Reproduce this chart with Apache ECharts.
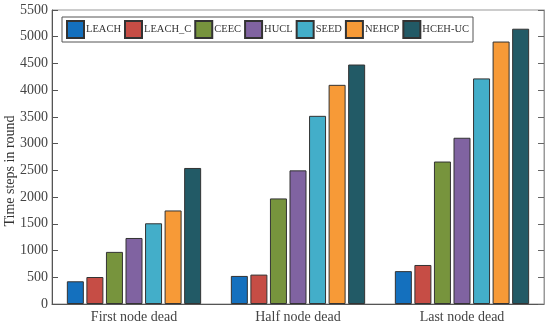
<!DOCTYPE html>
<html><head><meta charset="utf-8">
<script src="https://cdn.jsdelivr.net/npm/echarts@6/dist/echarts.min.js"></script>
<style>html,body{margin:0;padding:0;background:#fff}#c{width:550px;height:327px}</style>
</head><body><div id="c"></div>
<script>
const categories = ['First node dead', 'Half node dead', 'Last node dead'];
const seriesNames = ['LEACH', 'LEACH_C', 'CEEC', 'HUCL', 'SEED', 'NEHCP', 'HCEH-UC'];
const LEACH   = [425, 525, 615];
const LEACH_C = [505, 550, 730];
const CEEC    = [975, 1975, 2665];
const HUCL    = [1235, 2500, 3110];
const SEED    = [1510, 3520, 4220];
const NEHCP   = [1750, 4100, 4910];
const HCEH_UC = [2545, 4480, 5150];
const yTicks = [0, 500, 1000, 1500, 2000, 2500, 3000, 3500, 4000, 4500, 5000, 5500];
const values = [LEACH, LEACH_C, CEEC, HUCL, SEED, NEHCP, HCEH_UC];
const colors = ['#1470be', '#c64d45', '#77943d', '#8063a1', '#43aec9', '#f79a37', '#225a66'];

const font = 'Liberation Serif';
const chart = echarts.init(document.getElementById('c'));
chart.setOption({
  animation: false,
  color: colors,
  grid: { left: 52, right: 6, top: 10, bottom: 23, show: true, borderColor: '#999', borderWidth: 1,
          containLabel: false, outerBoundsMode: 'none' },
  legend: {
    data: seriesNames, left: 62, top: 17, orient: 'horizontal',
    icon: 'rect',
    itemWidth: 17, itemHeight: 17, itemGap: 3,
    padding: [3, 4, 3, 4],
    borderColor: '#555', borderWidth: 1, backgroundColor: '#fff',
    textStyle: { fontFamily: font, fontSize: 10.5, color: '#333', padding: [0, 0, 0, -3] }
  },
  xAxis: {
    type: 'category', data: categories,
    axisLine: { lineStyle: { color: '#555' } },
    axisTick: { show: false },
    axisLabel: { fontFamily: font, fontSize: 14, color: '#444', margin: 6 }
  },
  yAxis: [{
    type: 'value', min: yTicks[0], max: yTicks[yTicks.length - 1], interval: 500,
    name: 'Time steps in round', nameLocation: 'middle', nameGap: 35, nameMoveOverlap: false,
    nameTextStyle: { fontFamily: font, fontSize: 14, color: '#333', padding: [0, 28, 0, 0] },
    axisLine: { show: true, lineStyle: { color: '#555' } },
    axisTick: { show: true, inside: true, length: 6, lineStyle: { color: '#555' } },
    axisLabel: { fontFamily: font, fontSize: 14, color: '#444', margin: 4, formatter: v => String(v) },
    splitLine: { show: false }
  }, {
    type: 'value', position: 'right', min: yTicks[0], max: yTicks[yTicks.length - 1], interval: 500,
    axisLine: { show: true, lineStyle: { color: '#999' } },
    axisTick: { show: true, inside: true, length: 6, lineStyle: { color: '#666' } },
    axisLabel: { show: false },
    splitLine: { show: false }
  }],
  series: seriesNames.map((n, i) => ({
    name: n, type: 'bar', data: values[i], yAxisIndex: 0,
    barWidth: 17, barGap: '15%',
    itemStyle: { color: colors[i], borderColor: '#333', borderWidth: 1 }
  }))
});
</script></body></html>
